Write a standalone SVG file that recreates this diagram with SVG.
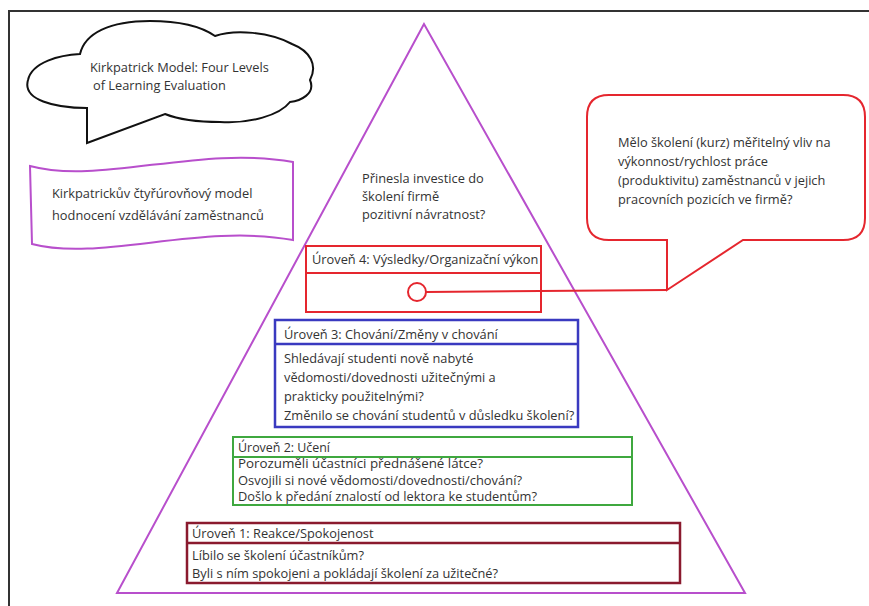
<svg xmlns="http://www.w3.org/2000/svg" width="869" height="606" viewBox="0 0 869 606">
<style>
text{font-family:"Open Sans","Noto Sans","DejaVu Sans",sans-serif;font-size:12.8px;fill:#333}
text.s{font-size:12px}
.frame{fill:none;stroke:#333;stroke-width:2}
.mag{fill:none;stroke:#b84fcc;stroke-width:2}
.l4{fill:none;stroke:#e5262e;stroke-width:2}
.l3{fill:none;stroke:#3a3ac0;stroke-width:2.5}
.l2{fill:none;stroke:#3fa83f;stroke-width:2}
.l1{fill:none;stroke:#8a1a2e;stroke-width:2.5}
.cloud{fill:#fff;stroke:#111;stroke-width:2}
.callout{fill:#fff;stroke:#e5262e;stroke-width:2}
</style>
<rect width="869" height="606" fill="#fff"/>
<rect class="frame" x="9" y="11" width="900" height="700"/>
<g id="pyramid">
<polygon class="mag" points="424,24 117,593 745,593"/>
<text x="362" y="183">Přinesla investice do</text>
<text x="362" y="201">školení firmě</text>
<text x="362" y="219">pozitivní návratnost?</text>
</g>
<g id="title-cloud">
<path class="cloud" d="M87,108 C55,108 22,100 28,80 C32,62 60,55 80,54 C85,33 110,21 150,21 C185,21 205,29 215,36 C235,29 270,32 292,44 C310,51 318,65 310,80 C316,94 300,101 290,102 C280,115 250,124 220,122 C195,122 175,118 165,114 L87,143 Z"/>
<text x="90" y="72">Kirkpatrick Model: Four Levels</text>
<text x="93" y="90">of Learning Evaluation</text>
</g>
<g id="banner">
<path class="mag" d="M30,166 C100,185 200,145 293,162 L293,240 C200,223 100,262 32,244 Z"/>
<text x="52" y="198">Kirkpatrickův čtyřúrovňový model</text>
<text x="52" y="220">hodnocení vzdělávání zaměstnanců</text>
</g>
<g id="level4">
<rect class="l4" x="306" y="246" width="235" height="66"/>
<line class="l4" x1="306" y1="273" x2="541" y2="273"/>
<text x="312" y="264">Úroveň 4: Výsledky/Organizační výkon</text>
<circle class="l4" cx="417" cy="292" r="9"/>
</g>
<g id="level3">
<rect class="l3" x="275" y="320" width="303" height="107"/>
<line class="l3" x1="275" y1="344" x2="578" y2="344"/>
<text x="284" y="339">Úroveň 3: Chování/Změny v chování</text>
<text x="284" y="363">Shledávají studenti nově nabyté</text>
<text x="284" y="382">vědomosti/dovednosti užitečnými a</text>
<text x="284" y="401">prakticky použitelnými?</text>
<text x="284" y="420">Změnilo se chování studentů v důsledku školení?</text>
</g>
<g id="level2">
<rect class="l2" x="233" y="437" width="399" height="68"/>
<line class="l2" x1="233" y1="457" x2="632" y2="457"/>
<text class="s" x="238" y="451.5" textLength="92" lengthAdjust="spacingAndGlyphs">Úroveň 2: Učení</text>
<text class="s" x="238" y="468" textLength="245" lengthAdjust="spacingAndGlyphs">Porozuměli účastníci přednášené látce?</text>
<text class="s" x="238" y="484.5" textLength="284" lengthAdjust="spacingAndGlyphs">Osvojili si nové vědomosti/dovednosti/chování?</text>
<text class="s" x="238" y="501" textLength="299" lengthAdjust="spacingAndGlyphs">Došlo k předání znalostí od lektora ke studentům?</text>
</g>
<g id="level1">
<rect class="l1" x="187" y="523" width="493" height="60"/>
<line class="l1" x1="187" y1="543" x2="680" y2="543"/>
<text x="192" y="538">Úroveň 1: Reakce/Spokojenost</text>
<text x="192" y="560">Líbilo se školení účastníkům?</text>
<text x="192" y="578">Byli s ním spokojeni a pokládají školení za užitečné?</text>
</g>
<g id="callout">
<path class="callout" d="M609,95 H843 Q865,95 865,117 V218 Q865,240 843,240 H743 L667,290 V240 H609 Q587,240 587,218 V117 Q587,95 609,95 Z"/>
<text x="618" y="147">Mělo školení (kurz) měřitelný vliv na</text>
<text x="618" y="166">výkonnost/rychlost práce</text>
<text x="618" y="185">(produktivitu) zaměstnanců v jejich</text>
<text x="618" y="204">pracovních pozicích ve firmě?</text>
</g>
<g id="connectors">
<line class="l4" x1="426" y1="292" x2="667" y2="290"/>
</g>
</svg>
